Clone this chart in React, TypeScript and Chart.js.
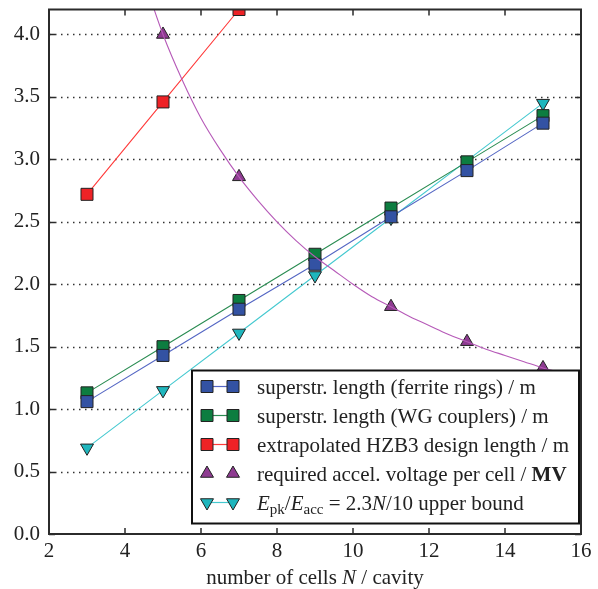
import React, { useEffect, useRef } from 'react';
import { Chart, registerables } from 'chart.js';

Chart.register(...registerables);

// ---- data ----
const cells = [3, 5, 7, 9, 11, 13, 15];
const ferriteLength = [1.06, 1.43, 1.8, 2.16, 2.54, 2.91, 3.29];
const wgLength = [1.13, 1.5, 1.87, 2.24, 2.61, 2.98, 3.35];
const hzbCells = [3, 5, 7];
const hzbLength = [2.72, 3.46, 4.2];
const voltCells = [5, 7, 9, 11, 13, 15];
const voltage = [4.0, 2.86, 2.22, 1.82, 1.54, 1.33];
const epkBound = [0.69, 1.15, 1.61, 2.07, 2.53, 2.99, 3.45];
const curveN = [4.5, 5, 5.5, 6, 6.5, 7, 7.5, 8, 8.5, 9, 9.5, 10, 10.5, 11, 11.5, 12, 12.5, 13, 13.5, 14, 14.5, 15, 15.5, 16];
const curveV = [4.44, 4.0, 3.64, 3.33, 3.08, 2.86, 2.67, 2.5, 2.35, 2.22, 2.11, 2.0, 1.9, 1.82, 1.74, 1.67, 1.6, 1.54, 1.48, 1.43, 1.38, 1.33, 1.29, 1.25];
const xTicks = [2, 4, 6, 8, 10, 12, 14, 16];
const yTicks = [0, 0.5, 1.0, 1.5, 2.0, 2.5, 3.0, 3.5, 4.0];

const FONT = '"Liberation Serif", "DejaVu Serif", serif';
const FS = 21;

const C = {
  blue: '#3352a3', blueLine: '#5567c4',
  green: '#0d7d40', greenLine: '#2a8c52',
  red: '#ee2226', redLine: '#ff3a3a',
  purple: '#8e3b91', purpleLine: '#b65ab8',
  cyan: '#1fb6bd', cyanLine: '#45c9d0',
  edge: '#222222',
};

function pts(xs: number[], ys: number[]) {
  return xs.map((x, i) => ({ x, y: ys[i] }));
}

function drawMarker(ctx: CanvasRenderingContext2D, type: string, x: number, y: number, fill: string) {
  ctx.save();
  ctx.beginPath();
  if (type === 'rect') {
    ctx.rect(x - 6, y - 6, 12, 12);
  } else if (type === 'tri') {
    const r = 7.5;
    ctx.moveTo(x, y - r);
    ctx.lineTo(x + r * 0.866, y + r / 2);
    ctx.lineTo(x - r * 0.866, y + r / 2);
    ctx.closePath();
  } else {
    const r = 7.5;
    ctx.moveTo(x, y + r);
    ctx.lineTo(x + r * 0.866, y - r / 2);
    ctx.lineTo(x - r * 0.866, y - r / 2);
    ctx.closePath();
  }
  ctx.fillStyle = fill;
  ctx.fill();
  ctx.strokeStyle = C.edge;
  ctx.lineWidth = 1;
  ctx.stroke();
  ctx.restore();
}

type Run = { t: string; italic?: boolean; bold?: boolean; size?: number; dy?: number };

function drawRuns(ctx: CanvasRenderingContext2D, runs: Run[], x: number, y: number, align: 'left' | 'center') {
  const fontOf = (r: Run) => `${r.italic ? 'italic ' : ''}${r.bold ? 'bold ' : ''}${r.size || FS}px ${FONT}`;
  let total = 0;
  for (const r of runs) {
    ctx.font = fontOf(r);
    total += ctx.measureText(r.t).width;
  }
  let cx = align === 'center' ? x - total / 2 : x;
  ctx.textAlign = 'left';
  ctx.textBaseline = 'alphabetic';
  for (const r of runs) {
    ctx.font = fontOf(r);
    ctx.fillText(r.t, cx, y + (r.dy || 0));
    cx += ctx.measureText(r.t).width;
  }
}

const legendItems = [
  { marker: 'rect', fill: C.blue, line: C.blueLine, runs: [{ t: 'superstr. length (ferrite rings) / m' }] as Run[] },
  { marker: 'rect', fill: C.green, line: C.greenLine, runs: [{ t: 'superstr. length (WG couplers) / m' }] as Run[] },
  { marker: 'rect', fill: C.red, line: C.redLine, runs: [{ t: 'extrapolated HZB3 design length / m' }] as Run[] },
  { marker: 'tri', fill: C.purple, line: null, runs: [{ t: 'required accel. voltage per cell / ' }, { t: 'MV', bold: true }] as Run[] },
  {
    marker: 'tri-down', fill: C.cyan, line: C.cyanLine,
    runs: [
      { t: 'E', italic: true }, { t: 'pk', size: 15, dy: 4 }, { t: '/' },
      { t: 'E', italic: true }, { t: 'acc', size: 15, dy: 4 },
      { t: ' = 2.3' }, { t: 'N', italic: true }, { t: '/10 upper bound' },
    ] as Run[],
  },
];

const framePlugin = {
  id: 'framePlugin',
  beforeDatasetsDraw(chart: any) {
    const { ctx, chartArea: a, scales } = chart;
    const ys = scales.y;
    ctx.save();
    ctx.strokeStyle = '#333';
    ctx.lineWidth = 1.3;
    ctx.setLineDash([1.5, 4.5]);
    for (const v of yTicks) {
      if (v === 0) continue;
      const py = Math.round(ys.getPixelForValue(v)) + 0.5;
      ctx.beginPath();
      ctx.moveTo(a.left, py);
      ctx.lineTo(a.right, py);
      ctx.stroke();
    }
    ctx.restore();
  },
  afterDatasetsDraw(chart: any) {
    const { ctx, chartArea: a, scales } = chart;
    ctx.save();
    ctx.strokeStyle = '#2b2b2b';
    ctx.lineWidth = 1.5;
    const L = 6;
    for (const v of xTicks) {
      const px = Math.round(scales.x.getPixelForValue(v));
      ctx.beginPath();
      ctx.moveTo(px, a.bottom); ctx.lineTo(px, a.bottom - L);
      ctx.moveTo(px, a.top); ctx.lineTo(px, a.top + L);
      ctx.stroke();
    }
    for (const v of yTicks) {
      const py = Math.round(scales.y.getPixelForValue(v)) + 0.5;
      ctx.beginPath();
      ctx.moveTo(a.left, py); ctx.lineTo(a.left + L, py);
      ctx.moveTo(a.right, py); ctx.lineTo(a.right - L, py);
      ctx.stroke();
    }
    ctx.lineWidth = 2;
    ctx.strokeStyle = '#2b2b2b';
    ctx.strokeRect(a.left, a.top, a.right - a.left, a.bottom - a.top);
    ctx.restore();
  },
  afterDraw(chart: any) {
    const { ctx, chartArea: a } = chart;
    ctx.save();
    ctx.fillStyle = '#222';
    drawRuns(ctx, [{ t: 'number of cells ' }, { t: 'N', italic: true }, { t: ' / cavity' }], (a.left + a.right) / 2, 584, 'center');
    const bx = a.left + 143, by = a.top + 361, bw = a.right - 2 - bx, bh = 153;
    ctx.fillStyle = '#ffffff';
    ctx.fillRect(bx, by, bw, bh);
    ctx.lineWidth = 2;
    ctx.strokeStyle = '#111';
    ctx.strokeRect(bx, by, bw, bh);
    legendItems.forEach((it, i) => {
      const cy = by + 16 + i * 29;
      const m1 = bx + 15, m2 = bx + 41;
      if (it.line) {
        ctx.beginPath();
        ctx.strokeStyle = it.line;
        ctx.lineWidth = 1.2;
        ctx.moveTo(m1, cy); ctx.lineTo(m2, cy);
        ctx.stroke();
      }
      drawMarker(ctx, it.marker, m1, cy, it.fill);
      drawMarker(ctx, it.marker, m2, cy, it.fill);
      ctx.fillStyle = '#222';
      drawRuns(ctx, it.runs, bx + 65, cy + 7, 'left');
    });
    ctx.restore();
  },
};

export default function App() {
  const ref = useRef<HTMLCanvasElement>(null);
  useEffect(() => {
    if (!ref.current) return;
    const lineDs = (label: string, data: any[], fill: string, line: string, style: string, radius: number, rotation = 0, showLine = true, clip: any = 0) => ({
      label, data,
      borderColor: line, backgroundColor: fill,
      borderWidth: 1.1,
      showLine,
      pointStyle: style, pointRadius: radius, pointHoverRadius: radius,
      pointRotation: rotation,
      pointBackgroundColor: fill, pointBorderColor: C.edge, pointBorderWidth: 1,
      tension: 0, clip,
    });
    const chart = new Chart(ref.current, {
      type: 'line',
      data: {
        datasets: [
          {
            label: 'curve', data: pts(curveN, curveV),
            borderColor: C.purpleLine, borderWidth: 1.1, pointRadius: 0, showLine: true,
            cubicInterpolationMode: 'monotone', clip: 0,
          } as any,
          lineDs('ferrite', pts(cells, ferriteLength), C.blue, C.blueLine, 'rect', 8.5),
          lineDs('wg', pts(cells, wgLength), C.green, C.greenLine, 'rect', 8.5),
          lineDs('hzb', pts(hzbCells, hzbLength), C.red, C.redLine, 'rect', 8.5),
          lineDs('volt', pts(voltCells, voltage), C.purple, C.purpleLine, 'triangle', 7.5, 0, false),
          lineDs('epk', pts(cells, epkBound), C.cyan, C.cyanLine, 'triangle', 7.5, 180),
        ],
      },
      options: {
        responsive: false,
        animation: false,
        devicePixelRatio: 1,
        events: [],
        layout: { padding: { top: 9, right: 17, left: 0, bottom: 0 } },
        plugins: { legend: { display: false }, tooltip: { enabled: false }, title: { display: false } },
        scales: {
          x: {
            type: 'linear', min: 2, max: 16,
            grid: { display: false, drawTicks: false },
            border: { display: false },
            ticks: {
              stepSize: 2, color: '#222', padding: 5,
              font: { family: FONT, size: FS },
              maxRotation: 0,
            },
            afterFit: (s: any) => { s.height = 55; s.paddingLeft = 0; s.paddingRight = 0; },
          },
          y: {
            type: 'linear', min: 0, max: 4.2,
            grid: { display: false, drawTicks: false },
            border: { display: false },
            ticks: {
              stepSize: 0.5, color: '#222', padding: 9,
              font: { family: FONT, size: FS },
              callback: (v: any) => Number(v).toFixed(1),
            },
            afterBuildTicks: (s: any) => {
              s.ticks = s.ticks.filter((t: any) => Math.abs(t.value * 2 - Math.round(t.value * 2)) < 1e-6);
            },
            afterFit: (s: any) => { s.width = 49; s.paddingTop = 0; s.paddingBottom = 0; },
          },
        },
      } as any,
      plugins: [framePlugin],
    });
    return () => chart.destroy();
  }, []);
  return (
    <div style={{ position: 'fixed', left: 0, top: 0, width: 598, height: 589, background: '#fff' }}>
      <canvas ref={ref} width={598} height={589} style={{ display: 'block' }} />
    </div>
  );
}
